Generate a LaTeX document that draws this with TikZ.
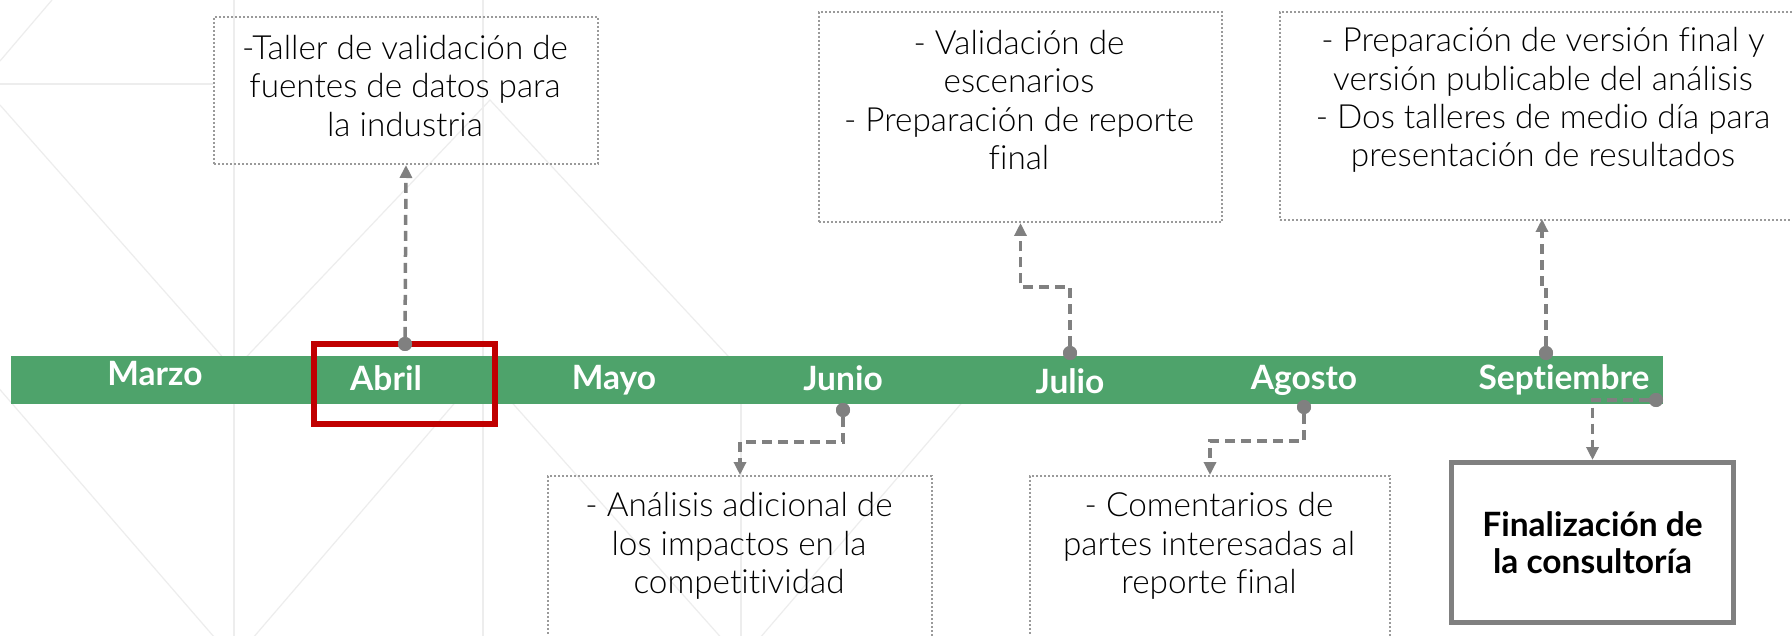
\documentclass[tikz,border=0pt]{standalone}
\usepackage{fontspec}
\setmainfont{Lato}[UprightFont={* Light}, BoldFont={* Bold}, Ligatures=NoCommon]
\usetikzlibrary{arrows.meta}

\definecolor{bargreen}{HTML}{4EA36B}
\definecolor{abrilred}{HTML}{C00000}
\definecolor{linkgray}{HTML}{808080}
\definecolor{notegray}{HTML}{9A9A9A}
\definecolor{latticegray}{HTML}{EDEDED}

\tikzset{
  month/.style={anchor=base, text=white, font=\fontsize{33.5}{38}\selectfont\bfseries},
  notebox/.style={draw=notegray, line width=2pt, dash pattern=on 2pt off 2pt, anchor=north west, inner sep=0pt},
  notetext/.style={align=center, inner sep=0pt, font=\fontsize{33.3}{38.3}\selectfont},
  dot/.style={circle, fill=linkgray, minimum size=14pt, inner sep=0pt},
  link/.style={draw=linkgray, line width=3.5pt, dash pattern=on 10pt off 6pt, -{Triangle[length=13pt, width=12pt]}},
  lattice/.style={draw=latticegray, line width=1.2pt},
}

\begin{document}
\begin{tikzpicture}[x=1pt, y=-1pt]
  \useasboundingbox (0,0) rectangle (1792,636);
  \fill[white] (0,0) rectangle (1792,636);

  % faint background lattice
  \draw[lattice] (234,0) -- (234,636) (483,0) -- (483,636) (741,404) -- (741,636);
  \draw[lattice] (0,84) -- (213,84);
  \draw[lattice] (52,0) -- (0,61);
  \draw[lattice] (0,105) -- (234,370) -- (490,100) -- (741,370);
  \draw[lattice] (-17,370) -- (234,660) -- (483,370) -- (741,660) -- (990,370);

  % timeline
  \fill[bargreen] (11,356) rectangle (1663,404);
  \node[draw=abrilred, line width=6pt, minimum width=181pt, minimum height=80pt] (abrilframe) at (404.5,384) {};

  \node[month] (marzo) at (155,385) {Marzo};
  \node[month] (abril) at (386,391) {Abril};
  \node[month] (mayo) at (614,390) {Mayo};
  \node[month] (junio) at (843,391) {Junio};
  \node[month] (julio) at (1070,394) {Julio};
  \node[month] (agosto) at (1304,389) {Agosto};
  \node[month] (septiembre) at (1564,389) {Septiembre};

  % notes above
  \node[notebox, minimum width=384pt, minimum height=147pt] (tallerbox) at (213,16) {};
  \node[notetext] (tallertxt) at (405,86) {-Taller de validación de\\fuentes de datos para\\la industria};

  \node[notebox, minimum width=403pt, minimum height=210pt] (valbox) at (818,11) {};
  \node[notetext] (valtxt) at (1019,100) {- Validación de\\escenarios\\- Preparación de reporte\\final};

  \node[notebox, minimum width=540pt, minimum height=208pt] (prepbox) at (1279,11) {};
  \node[notetext] (preptxt) at (1543,100) {- Preparación de versión final y\\versión publicable del análisis\\- Dos talleres de medio día para\\presentación de resultados};

  % notes below
  \node[notebox, minimum width=384pt, minimum height=200pt] (analbox) at (547,475) {};
  \node[notetext] (analtxt) at (739,546) {- Análisis adicional de\\los impactos en la\\competitividad};

  \node[notebox, minimum width=360pt, minimum height=200pt] (comentbox) at (1029,475) {};
  \node[notetext] (comenttxt) at (1209,546) {- Comentarios de\\partes interesadas al\\reporte final};

  \node[draw=linkgray, line width=5pt, fill=white, minimum width=282pt, minimum height=160pt, align=center,
        font=\fontsize{33.5}{37}\selectfont\bfseries] (finbox) at (1592.5,542.5) {Finalización de\\la consultoría};

  % connectors
  \node[dot] (dAbril) at (405,344) {};
  \node[dot] (dJunio) at (843,410) {};
  \node[dot] (dJulio) at (1070,353) {};
  \node[dot] (dAgosto) at (1304,407) {};
  \node[dot] (dSeptUp) at (1546,353) {};
  \node[dot] (dSeptDn) at (1656,400) {};
  \coordinate (sepIn) at (1542,219);

  \draw[link] (dAbril) -- (tallerbox.south);
  \draw[link] (dJulio) -- ++(0,-66) -| (valbox.south);
  \draw[link] (dSeptUp) -- ++(0,-66) -- ++(-4,0) -- (sepIn);
  \draw[link] (dJunio) -- ++(0,32) -| (analbox.north);
  \draw[link] (dAgosto) -- ++(0,34) -| (comentbox.north);
  \draw[link] (dSeptDn) -| (finbox.north);
  \node[dot] at (dAbril) {};
  \node[dot] at (dJunio) {};
  \node[dot] at (dJulio) {};
  \node[dot] at (dAgosto) {};
  \node[dot] at (dSeptUp) {};
  \node[dot] at (dSeptDn) {};
\end{tikzpicture}
\end{document}
